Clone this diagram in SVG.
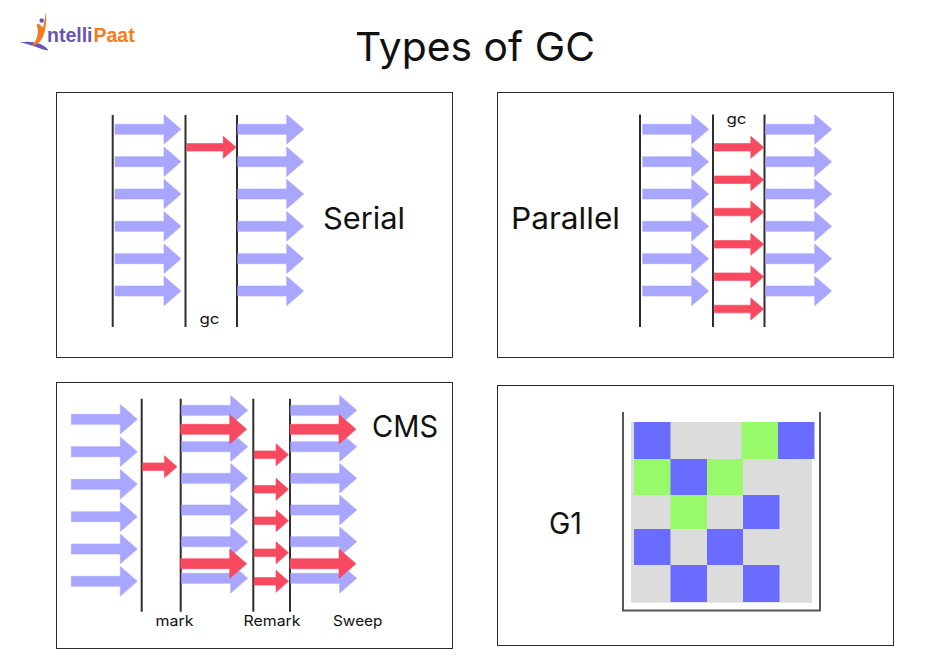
<svg xmlns="http://www.w3.org/2000/svg" width="950" height="672" viewBox="0 0 950 672">
<style>
.panel{fill:#fff;stroke:#2b2b2b;stroke-width:1}
.bar{stroke:#2e2e2e;stroke-width:2;fill:none}
text{font-family:"Inter","Noto Sans","Liberation Sans",sans-serif;fill:#111}
.big{font-size:30px}
.small{font-size:14.5px}
.blue{fill:#6a6cff}.green{fill:#98f96a}
.ar{stroke-width:.6;stroke-linejoin:round}
</style>
<defs>
<path id="ba" class="ar" fill="#a9a6ff" stroke="#a9a6ff" d="M0-5H49V-14.700L66 0L49 14.700V5H0Z"/>
<path id="rs" class="ar" fill="#f74a60" stroke="#f74a60" d="M0-3.800H36.500V-11L49.500 0L36.500 11V3.800H0Z"/>
<path id="rm" class="ar" fill="#f74a60" stroke="#f74a60" d="M0-3.800H22V-11L34.500 0L22 11V3.800H0Z"/>
<path id="rb" class="ar" fill="#f74a60" stroke="#f74a60" d="M0-5H49V-14.700L66 0L49 14.700V5H0Z"/>
</defs>
<rect width="950" height="672" fill="#fff"/>
<g id="logo">
<path d="M20 42.500C28 41 38 42 43 45.500C46 47 48 49 48 50.500C42 50 34 45 20 42.500Z" fill="#6a55b5"/>
<path d="M46 12C46.800 24 45 36 40 41.500C37.500 44 34 45.500 31 46C34.500 43 36.500 40 37.500 35C38 31 38 28 36.500 25L38.500 23.500L43 27.500C44.300 22 45 17 46 12Z" fill="#f47c20"/>
<circle cx="41.700" cy="20.500" r="2.200" fill="#6a55b5"/>
<text x="47" y="42" font-size="19.500" font-weight="700" style="font-family:'Liberation Sans',sans-serif;fill:#6a55b5">ntelli</text>
<text x="93.500" y="42" font-size="19.500" font-weight="700" style="font-family:'Liberation Sans',sans-serif;fill:#f47c20">Paat</text>
</g>
<text id="title" x="355" y="61" font-size="40" textLength="240" lengthAdjust="spacingAndGlyphs">Types of GC</text>

<g id="serial">
<rect class="panel" x="56.500" y="92.500" width="396" height="265"/>
<path class="bar" d="M112.700 115V327M185.500 115V327M237 115V327"/>
<use href="#ba" x="115" y="129.300"/><use href="#ba" x="115" y="161.700"/><use href="#ba" x="115" y="194"/><use href="#ba" x="115" y="226.300"/><use href="#ba" x="115" y="258.700"/><use href="#ba" x="115" y="291"/>
<use href="#rs" x="186.700" y="147.300"/>
<use href="#ba" x="237.700" y="129.300"/><use href="#ba" x="237.700" y="161.700"/><use href="#ba" x="237.700" y="194"/><use href="#ba" x="237.700" y="226.300"/><use href="#ba" x="237.700" y="258.700"/><use href="#ba" x="237.700" y="291"/>
<text class="small" x="199.500" y="324" textLength="20" lengthAdjust="spacingAndGlyphs">gc</text>
<text class="big" x="323" y="229" textLength="82" lengthAdjust="spacingAndGlyphs">Serial</text>
</g>

<g id="parallel">
<rect class="panel" x="497.500" y="92.500" width="396" height="265"/>
<path class="bar" d="M640 114.500V327M713 114.500V327M764.500 114.500V327"/>
<use href="#ba" x="642.700" y="129.300"/><use href="#ba" x="642.700" y="161.700"/><use href="#ba" x="642.700" y="194"/><use href="#ba" x="642.700" y="226.300"/><use href="#ba" x="642.700" y="258.700"/><use href="#ba" x="642.700" y="291"/>
<use href="#rs" x="714.300" y="147.300"/><use href="#rs" x="714.300" y="179.700"/><use href="#rs" x="714.300" y="212"/><use href="#rs" x="714.300" y="244.300"/><use href="#rs" x="714.300" y="276.700"/><use href="#rs" x="714.300" y="309"/>
<use href="#ba" x="765.700" y="129.300"/><use href="#ba" x="765.700" y="161.700"/><use href="#ba" x="765.700" y="194"/><use href="#ba" x="765.700" y="226.300"/><use href="#ba" x="765.700" y="258.700"/><use href="#ba" x="765.700" y="291"/>
<text class="small" x="726.500" y="123.500" textLength="20" lengthAdjust="spacingAndGlyphs">gc</text>
<text class="big" x="511" y="229" textLength="109" lengthAdjust="spacingAndGlyphs">Parallel</text>
</g>

<g id="cms">
<rect class="panel" x="56.500" y="382.500" width="396" height="266"/>
<path class="bar" d="M141.700 398.700V611.700M180.700 398.700V611.700M253.300 398.700V611.700M290 398.700V611.700"/>
<use href="#ba" x="71.300" y="419.300"/><use href="#ba" x="71.300" y="451.700"/><use href="#ba" x="71.300" y="484.300"/><use href="#ba" x="71.300" y="516.700"/><use href="#ba" x="71.300" y="549"/><use href="#ba" x="71.300" y="581.300"/>
<use href="#rm" x="142.500" y="466.700"/>
<use href="#ba" x="181.700" y="410.300"/><use href="#ba" x="181.700" y="446.700"/><use href="#ba" x="181.700" y="478.300"/><use href="#ba" x="181.700" y="510"/><use href="#ba" x="181.700" y="541.700"/><use href="#ba" x="181.700" y="578.300"/>
<use href="#rb" x="180.700" y="429.300"/><use href="#rb" x="180.700" y="563.700"/>
<use href="#rm" x="254" y="454.700"/><use href="#rm" x="254" y="489.300"/><use href="#rm" x="254" y="520.700"/><use href="#rm" x="254" y="552.700"/><use href="#rm" x="254" y="581.300"/>
<use href="#ba" x="290.700" y="410.300"/><use href="#ba" x="290.700" y="446.700"/><use href="#ba" x="290.700" y="478.300"/><use href="#ba" x="290.700" y="510"/><use href="#ba" x="290.700" y="541.700"/><use href="#ba" x="290.700" y="578.300"/>
<use href="#rb" x="290" y="429.300"/><use href="#rb" x="290" y="563.700"/>
<text class="small" x="155.500" y="626" textLength="38" lengthAdjust="spacingAndGlyphs">mark</text>
<text class="small" x="243.500" y="626" textLength="57" lengthAdjust="spacingAndGlyphs">Remark</text>
<text class="small" x="333" y="626" textLength="49.500" lengthAdjust="spacingAndGlyphs">Sweep</text>
<text class="big" x="372" y="437" textLength="66" lengthAdjust="spacingAndGlyphs">CMS</text>
</g>

<g id="g1">
<rect class="panel" x="497.500" y="385.500" width="396" height="260"/>
<path d="M623 412V610.500H820V412" fill="none" stroke="#555" stroke-width="2"/>
<rect x="631" y="422" width="181" height="180.700" fill="#dcdcdc"/>
<rect class="blue" x="634" y="422" width="36.500" height="37"/>
<rect class="green" x="741.500" y="422" width="36.500" height="37"/>
<rect class="blue" x="778" y="422" width="36.500" height="37"/>
<rect class="green" x="634" y="459" width="36.500" height="36"/>
<rect class="blue" x="670.500" y="459" width="36.500" height="36"/>
<rect class="green" x="707" y="459" width="36" height="36"/>
<rect class="green" x="670.500" y="495" width="36.500" height="34"/>
<rect class="blue" x="743" y="495" width="36.500" height="34"/>
<rect class="blue" x="634" y="529" width="36.500" height="36"/>
<rect class="blue" x="707" y="529" width="36" height="36"/>
<rect class="blue" x="670.500" y="565" width="36.500" height="37"/>
<rect class="blue" x="743" y="565" width="36.500" height="37"/>
<text class="big" x="549" y="534" textLength="33" lengthAdjust="spacingAndGlyphs">G1</text>
</g>
</svg>
